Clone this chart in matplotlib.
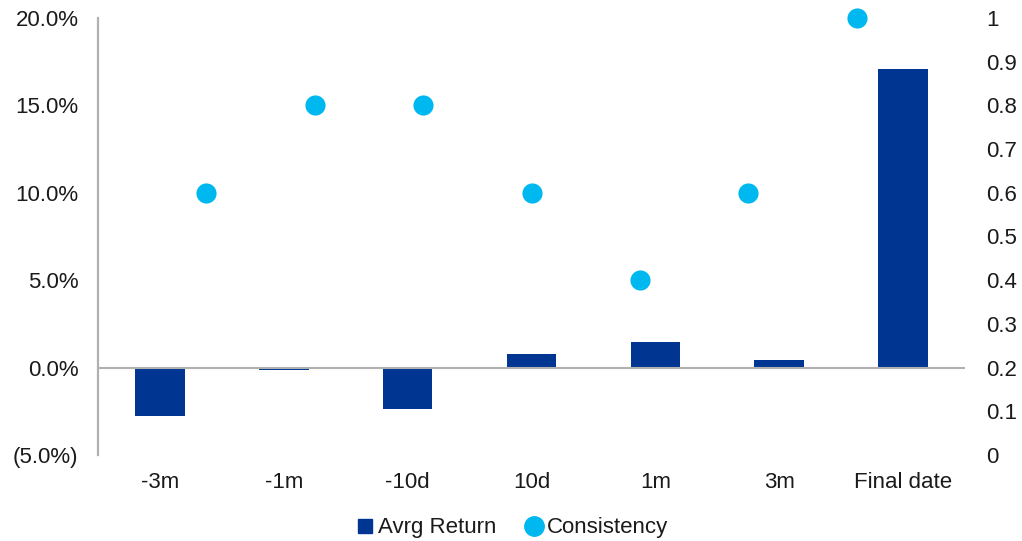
import matplotlib
matplotlib.use("Agg")
import matplotlib.pyplot as plt
from matplotlib.lines import Line2D
import numpy as np

categories = ["-3m", "-1m", "-10d", "10d", "1m", "3m", "Final date"]
avrg_return = [-2.75, -0.15, -2.35, 0.75, 1.45, 0.43, 17.1]  # percent
consistency = [0.6, 0.8, 0.8, 0.6, 0.4, 0.6, 1.0]
left_ticks = [-5, 0, 5, 10, 15, 20]
left_labels = ["(5.0%)", "0.0%", "5.0%", "10.0%", "15.0%", "20.0%"]
right_ticks = [0, 0.1, 0.2, 0.3, 0.4, 0.5, 0.6, 0.7, 0.8, 0.9, 1.0]
right_labels = ["0", "0.1", "0.2", "0.3", "0.4", "0.5", "0.6", "0.7", "0.8", "0.9", "1"]

plt.rcParams['font.family'] = ['Liberation Sans', 'DejaVu Sans']
BAR = "#003591"
DOT = "#00B8F0"
GRAY = "#B0B0B0"
TXT = "#1a1a1a"
FS = 16

fig = plt.figure(figsize=(10.22, 5.41), dpi=100)
pos = [98/1022, 1-455/541, (965-98)/1022, (455-18)/541]
ax = fig.add_axes(pos)
x = np.arange(len(categories))
ax.bar(x, avrg_return, width=0.4, color=BAR, zorder=2)
ax.axhline(0, color=GRAY, lw=1.5, zorder=3)
ax.set_xlim(-0.5, len(categories)-0.5)
ax.set_ylim(-5, 20)
ax.set_yticks(left_ticks)
ax.set_yticklabels(left_labels, fontsize=FS, color=TXT)
ax.set_xticks(x)
ax.set_xticklabels(categories, fontsize=FS, color=TXT)
ax.tick_params(axis='both', length=0)
ax.tick_params(axis='x', pad=12)
ax.tick_params(axis='y', pad=14)
for s in ["top", "bottom", "right"]:
    ax.spines[s].set_visible(False)
ax.spines["left"].set_color(GRAY)
ax.spines["left"].set_linewidth(1.6)

ax2 = fig.add_axes(pos, frameon=False)
ax2.set_xlim(0, len(categories)+1)
ax2.set_ylim(0, 1)
xd = np.arange(1, len(categories)+1)
ax2.plot(xd, consistency, 'o', color=DOT, markersize=14.5, markeredgewidth=0, zorder=4, clip_on=False)
ax2.yaxis.tick_right()
ax2.set_yticks(right_ticks)
ax2.set_yticklabels(right_labels, fontsize=FS, color=TXT)
ax2.set_xticks([])
ax2.tick_params(axis='y', length=0, pad=15)
ax2.spines["right"].set_visible(True)
ax2.spines["right"].set_color(GRAY)
ax2.spines["right"].set_linewidth(1.6)

handles = [Line2D([], [], marker='s', linestyle='none', color=BAR, markersize=10),
           Line2D([], [], marker='o', linestyle='none', color=DOT, markersize=14)]
fig.legend(handles, ["Avrg Return", "Consistency"], loc='center', bbox_to_anchor=(0.5, 1-528/541),
           ncol=2, frameon=False, fontsize=FS, handletextpad=0.1, columnspacing=1.2,
           handlelength=1.0, labelcolor=TXT)

fig.savefig("out.png", dpi=100)
